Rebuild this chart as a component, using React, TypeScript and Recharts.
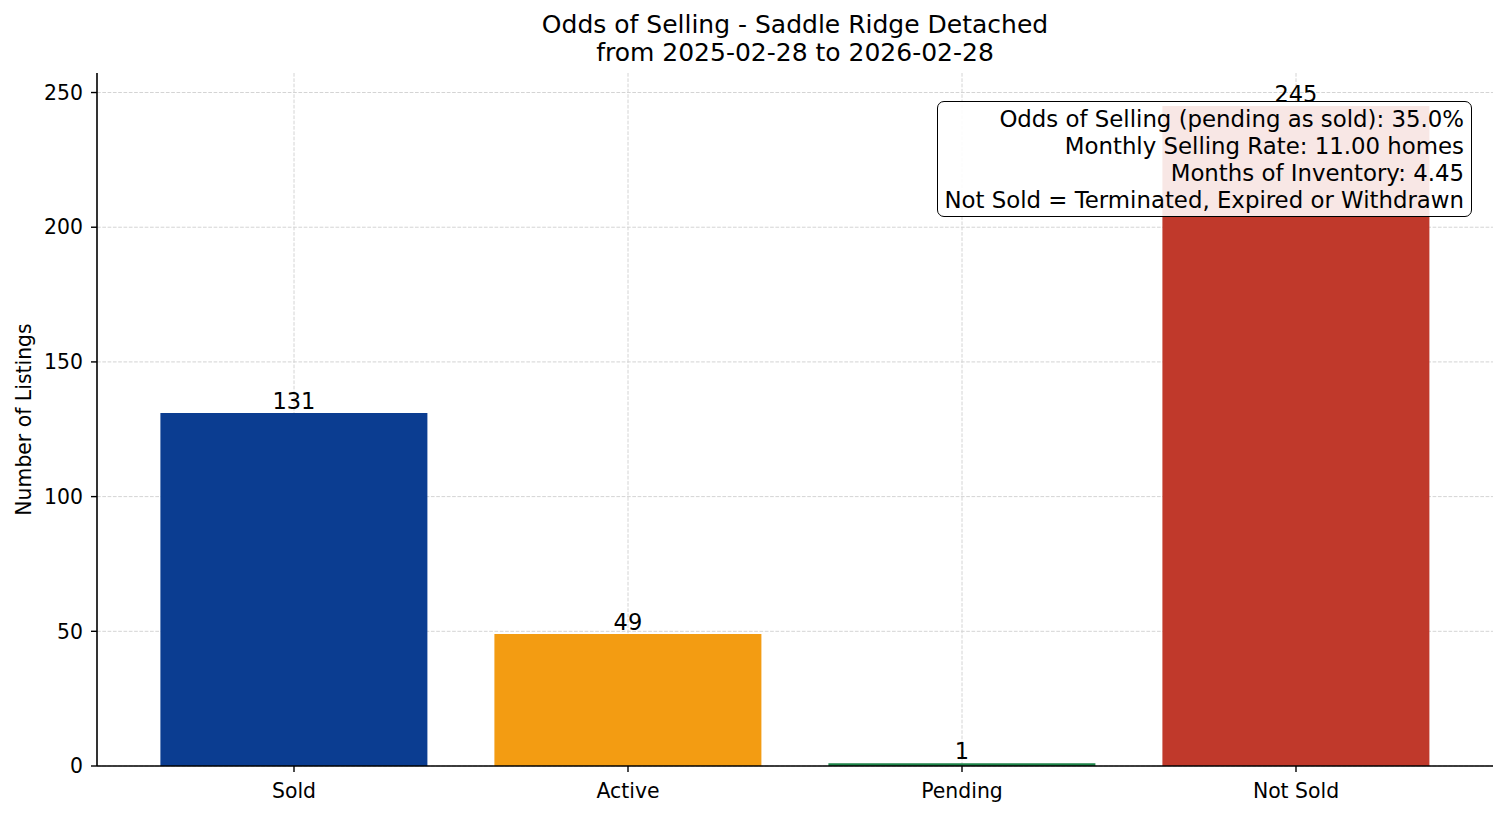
import React from "react";
import {
  BarChart,
  Bar,
  Cell,
  XAxis,
  YAxis,
  CartesianGrid,
  LabelList,
  Label,
} from "recharts";

const categories = ["Sold", "Active", "Pending", "Not Sold"];
const counts = [131, 49, 1, 245];
const barColors = ["#0b3d91", "#f39c12", "#1e8449", "#c0392b"];
const yTicks = [0, 50, 100, 150, 200, 250];
const titleLines = [
  "Odds of Selling - Saddle Ridge Detached",
  "from 2025-02-28 to 2026-02-28",
];
const statLines = [
  "Odds of Selling (pending as sold): 35.0%",
  "Monthly Selling Rate: 11.00 homes",
  "Months of Inventory: 4.45",
  "Not Sold = Terminated, Expired or Withdrawn",
];

const FONT = "'DejaVu Sans', sans-serif";

const data = categories.map((c, i) => ({ name: c, count: counts[i] }));

function YLabel({ viewBox }: any) {
  const cx = 24;
  const cy = viewBox.y + viewBox.height / 2;
  return (
    <text
      x={cx}
      y={cy}
      transform={`rotate(-90, ${cx}, ${cy})`}
      textAnchor="middle"
      dominantBaseline="central"
      fontSize={20.4}
      fontFamily={FONT}
      fill="#000"
    >
      Number of Listings
    </text>
  );
}

export default function App() {
  return (
    <div
      style={{
        position: "absolute",
        left: 0,
        top: 0,
        width: 1507,
        height: 816,
        background: "#fff",
        fontFamily: FONT,
      }}
    >
      <div
        style={{
          position: "absolute",
          left: 97,
          width: 1396,
          top: 11,
          textAlign: "center",
          fontSize: 25,
          lineHeight: "28px",
          color: "#000",
        }}
      >
        {titleLines.map((t) => (
          <div key={t}>{t}</div>
        ))}
      </div>
      <BarChart
        width={1507}
        height={816}
        data={data}
        margin={{ top: 73, right: 14, bottom: 0, left: 0 }}
        barCategoryGap="10%"
        style={{ fontFamily: FONT }}
      >
        <XAxis
          dataKey="name"
          height={50}
          padding={{ left: 30, right: 30 }}
          tick={{ fill: "#000", fontSize: 20.4 }}
          tickSize={6}
          tickMargin={12}
          axisLine={{ stroke: "#000", strokeWidth: 1.6 }}
          tickLine={{ stroke: "#000", strokeWidth: 1.4 }}
        />
        <YAxis
          width={97}
          domain={[0, 257.25]}
          ticks={yTicks}
          tick={{ fill: "#000", fontSize: 20.4 }}
          tickSize={6}
          tickMargin={8}
          axisLine={{ stroke: "#000", strokeWidth: 1.6 }}
          tickLine={{ stroke: "#000", strokeWidth: 1.4 }}
        >
          <Label content={<YLabel />} />
        </YAxis>
        <Bar dataKey="count" isAnimationActive={false}>
          {data.map((d, i) => (
            <Cell key={d.name} fill={barColors[i]} />
          ))}
          <LabelList
            dataKey="count"
            position="top"
            offset={4}
            fill="#000"
            fontSize={22.5}
            fontFamily={FONT}
          />
        </Bar>
        {/* grid only at ticks, drawn over the bars */}
        <CartesianGrid
          stroke="#d4d4d4"
          strokeDasharray="3.7 1.6"
          strokeWidth={1}
          syncWithTicks
        />
      </BarChart>
      <div
        style={{
          position: "absolute",
          left: 937,
          top: 101,
          width: 535,
          height: 116,
          boxSizing: "border-box",
          border: "1.8px solid #000",
          borderRadius: 7,
          background: "rgba(255,255,255,0.88)",
          textAlign: "right",
          fontSize: 22.85,
          lineHeight: "27px",
          padding: "4px 7px 0 0",
          color: "#000",
          whiteSpace: "nowrap",
        }}
      >
        {statLines.map((t) => (
          <div key={t}>{t}</div>
        ))}
      </div>
    </div>
  );
}
